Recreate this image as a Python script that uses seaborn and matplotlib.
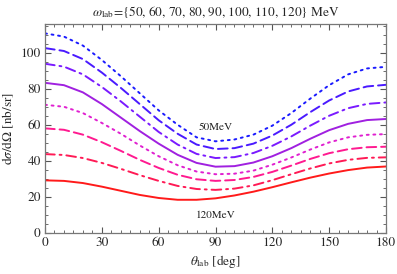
import numpy as np
import pandas as pd
import matplotlib
matplotlib.use("Agg")
import matplotlib.pyplot as plt
import seaborn as sns
from matplotlib.ticker import MultipleLocator

# 读图得到的数据 (每10度一个点)
theta = [0, 10, 20, 30, 40, 50, 60, 70, 80, 90, 100, 110, 120, 130, 140, 150, 160, 170, 180]
energies = [50, 60, 70, 80, 90, 100, 110, 120]

xs_50 = [110.8, 109.0, 104.0, 96.0, 87.0, 77.5, 68.0, 60.0, 53.0, 50.8, 51.8, 54.5, 59.5, 66.5, 74.5, 82.0, 88.0, 91.3, 92.2]
xs_60 = [102.6, 101.0, 96.5, 89.0, 80.5, 71.5, 62.5, 55.0, 49.0, 46.5, 47.0, 49.5, 54.0, 60.0, 67.0, 73.5, 78.5, 81.3, 82.2]
xs_70 = [93.9, 92.3, 88.0, 81.0, 73.0, 64.5, 56.0, 49.0, 43.8, 41.5, 42.0, 44.3, 48.3, 53.5, 59.5, 65.0, 69.2, 71.6, 72.4]
xs_80 = [83.3, 82.0, 78.0, 71.5, 64.0, 56.5, 49.5, 43.3, 38.8, 36.7, 37.0, 39.0, 42.5, 47.0, 52.2, 57.0, 60.5, 62.6, 63.2]
xs_90 = [71.1, 70.0, 66.5, 61.0, 55.0, 48.5, 42.5, 37.5, 34.0, 32.5, 32.8, 34.5, 37.8, 41.8, 46.2, 50.2, 53.0, 54.4, 54.8]
xs_100 = [58.0, 57.2, 54.5, 50.3, 45.5, 40.5, 36.0, 32.2, 29.7, 28.8, 29.3, 31.0, 33.8, 37.3, 41.0, 44.2, 46.4, 47.5, 47.8]
xs_110 = [43.7, 43.2, 41.5, 38.8, 35.5, 32.0, 28.8, 26.0, 24.3, 23.8, 24.5, 26.3, 29.2, 32.5, 35.7, 38.5, 40.5, 41.6, 41.9]
xs_120 = [29.1, 28.8, 27.6, 25.6, 23.3, 21.0, 19.3, 18.3, 18.3, 19.1, 20.7, 22.8, 25.3, 28.0, 30.6, 32.9, 34.8, 36.2, 36.8]

series = [xs_50, xs_60, xs_70, xs_80, xs_90, xs_100, xs_110, xs_120]
colors = ["#1a1aff", "#4a1aff", "#7a1aff", "#a020e0",
          "#e020d0", "#ff1a90", "#ff1a55", "#ff1a1a"]
dashes = [(1, 2.4), (5, 2.5), (5, 2.5, 1, 2.5), (),
          (1, 2.4), (5, 2.5), (5, 2.5, 1, 2.5), ()]

sns.set_style("ticks")
plt.rcParams['font.family'] = ['STIXGeneral', 'DejaVu Serif']
plt.rcParams['mathtext.fontset'] = 'stix'

fig = plt.figure(figsize=(3.97, 2.74), dpi=100)
ax = fig.add_axes([0.1134, 0.1507, 0.8589, 0.7617])

for e, ys, c, d in zip(energies, series, colors, dashes):
    df = pd.DataFrame({"theta": theta, "xs": ys})
    sns.lineplot(data=df, x="theta", y="xs", ax=ax, color=c, lw=1.4)
    line = ax.lines[-1]
    line.set_solid_joinstyle("round")
    if d:
        line.set_dashes(d)
        line.set_dash_capstyle("round")

ax.set_xlim(0, 180)
ax.set_ylim(0, 116)
ax.xaxis.set_major_locator(MultipleLocator(30))
ax.xaxis.set_minor_locator(MultipleLocator(5))
ax.yaxis.set_major_locator(MultipleLocator(20))
ax.yaxis.set_minor_locator(MultipleLocator(5))
ax.tick_params(which="both", direction="in", top=True, right=True,
               color="#555555", labelsize=9.5, pad=3)
ax.tick_params(which="major", length=4.5, width=0.8)
ax.tick_params(which="minor", length=2.3, width=0.6)
for s in ax.spines.values():
    s.set_color("#777777")
    s.set_linewidth(0.9)

ax.set_xlabel(r"$\theta_{\rm lab}$ [deg]", fontsize=9.5, labelpad=3)
ax.set_ylabel(r"d$\sigma$/d$\Omega$ [nb/sr]", fontsize=9.5, labelpad=3)
ax.set_title(r"$\omega_{\rm lab}$={50, 60, 70, 80, 90, 100, 110, 120} MeV",
             fontsize=9.5, pad=6)

ax.text(90, 58.5, "50MeV", fontsize=8, ha="center", va="center", color="#222222")
ax.text(90, 9.5, "120MeV", fontsize=8, ha="center", va="center", color="#222222")

fig.savefig("out.png", dpi=100)
